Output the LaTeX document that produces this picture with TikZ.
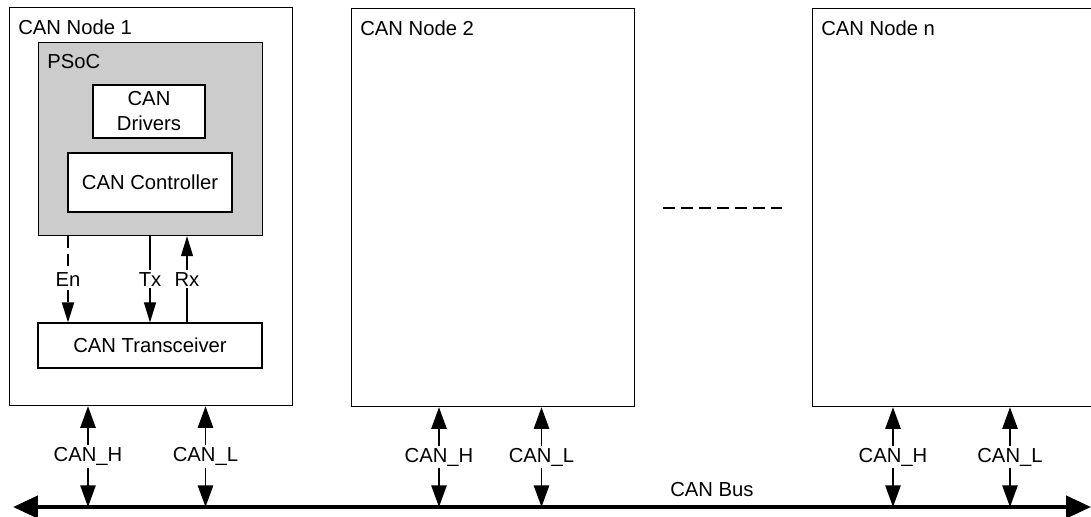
\documentclass[tikz,border=0pt]{standalone}
\usepackage{fontspec}
\setmainfont{Liberation Sans}
\usetikzlibrary{arrows.meta, positioning, calc}

\begin{document}
\begin{tikzpicture}[
    x=0.025cm, y=-0.025cm,
    font=\fontsize{14.4}{17.8}\selectfont,
    simpul/.style={draw, line width=0.8pt, anchor=north west, inner sep=0pt,
                   minimum width=7.075cm, minimum height=9.95cm},
    kotak/.style={draw, line width=0.8pt, fill=white, align=center, inner sep=0pt},
    judul/.style={anchor=west, inner sep=0pt},
    sinyal/.style={line width=0.8pt, -{Triangle[length=0.5cm, width=0.3cm]}},
    ket/.style={fill=white, inner sep=1.5pt},
    jalur/.style={line width=1.4pt,
                  {Triangle[length=0.54cm, width=0.38cm]}-{Triangle[length=0.54cm, width=0.38cm]}},
    bus/.style={line width=2.8pt,
                {Triangle[length=0.62cm, width=0.55cm]}-{Triangle[length=0.62cm, width=0.55cm]}},
    putus/.style={line width=1.4pt, dash pattern=on 0.3cm off 0.15cm}
  ]
    \useasboundingbox (0,0) rectangle (1091,517);
    % Koordinat dalam piksel: kiri atas tiap simpul, lebar 283, tinggi 398.
    \node[simpul] (n1) at (9,7) {};
    \node[simpul] (n2) at (351,8) {};
    \node[simpul] (nn) at (812,8) {};
    \node[judul] (t1) at (18,27) {CAN Node 1};
    \node[judul] (t2) at (360,28) {CAN Node 2};
    \node[judul] (tn) at (821,28) {CAN Node n};

    \node[kotak, fill=gray!40, anchor=north west, minimum width=5.6cm,
          minimum height=4.825cm] (psoc) at (38,42) {};
    \node[judul] (tpsoc) at (47,62) {PSoC};
    \node[kotak, minimum width=2.8cm, minimum height=1.325cm] (drv)
      at (149,111.5) {CAN\\Drivers};
    \node[kotak, minimum width=4.1cm, minimum height=1.475cm] (ctrl)
      at (150,182.5) {CAN Controller};
    \node[kotak, minimum width=5.6cm, minimum height=1.125cm] (trx)
      at (150,345.5) {CAN Transceiver};

    \coordinate (xEn) at (68,0);
    \coordinate (xTx) at (150,0);
    \coordinate (xRx) at (187,0);
    \draw[sinyal, putus] (psoc.south -| xEn) -- node[ket] {En} (trx.north -| xEn);
    \draw[sinyal] (psoc.south -| xTx) -- node[ket] {Tx} (trx.north -| xTx);
    \draw[sinyal] (trx.north -| xRx) -- node[ket] {Rx} (psoc.south -| xRx);

    \draw[putus] ([xshift=0.7cm]n2.east) -- ([xshift=-0.75cm]nn.west);

    \coordinate (h1) at (88,507);
    \coordinate (l1) at (205.5,507);
    \coordinate (h2) at (439,507);
    \coordinate (l2) at (541.5,507);
    \coordinate (hn) at (893,507);
    \coordinate (ln) at (1010,507);
    \foreach \k in {1,2,n} {
      \draw[jalur] (n\k.south -| h\k) -- node[ket] {CAN\_H} (h\k);
      \draw[jalur] (n\k.south -| l\k) -- node[ket] {CAN\_L} (l\k);
    }

    \coordinate (busL) at (13,507);
    \coordinate (busR) at (1091,507);
    \draw[bus] (busL) -- (busR);
    \node (tbus) at (712,490) {CAN Bus};
  \end{tikzpicture}
\end{document}
